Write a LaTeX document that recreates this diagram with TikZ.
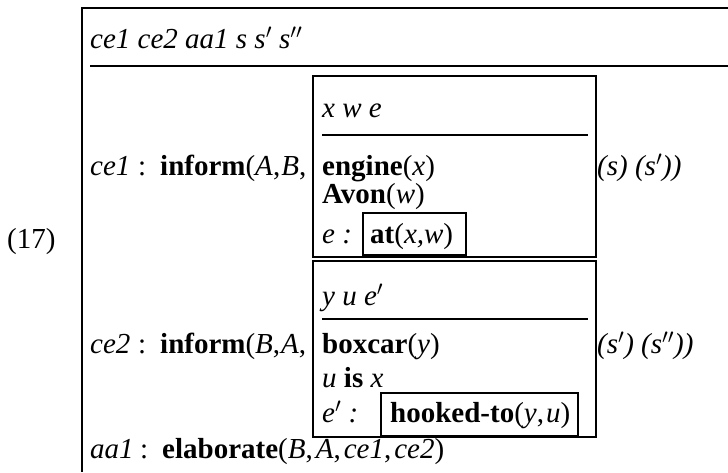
\documentclass[tikz,border=0pt]{standalone}
\usepackage{fontspec}
\setmainfont{Liberation Serif}
% argument separator with a little extra room, as in math-set argument lists
\newcommand{\argsep}[1]{,\kern#1}
\begin{document}
\begin{tikzpicture}[x=1pt,y=-1pt,
  txt/.style={anchor=base west, inner sep=0pt, font=\fontsize{29}{33}\selectfont},
  outerline/.style={line width=2.4pt},
  boxline/.style={line width=2pt}]
\useasboundingbox (0,0) rectangle (728,472);

% example number
\node[txt] (num) at (7,248) {(17)};

% outer DRS frame (open on the right and at the bottom)
\draw[outerline] (728,8) -- (82,8) -- (82,472);
\node[txt] (head) at (90,48) {\textit{ce1 ce2 aa1 s s}$'$ \textit{s}$''$};
\draw[boxline] (90,66) -- (728,66);

% condition ce1
\node[txt] (lab1) at (90,175) {\textit{ce1}};
\node[txt] (col1) at (138,175) {:};
\node[txt] (inf1) at (160,175) {\textbf{inform}(\textit{A}\argsep{1pt}\textit{B},};
\node[txt] (tail1) at (597,175) {\textit{(s) (s}$'$\textit{))}};

% embedded box for ce1
\draw[boxline] (313,76) rectangle (596,257);
\node[txt] (hd1) at (322,117) {\textit{x w e}};
\draw[boxline] (322,135) -- (588,135);
\node[txt] (eng) at (322,175) {\textbf{engine}(\textit{x})};
\node[txt] (avon) at (322,203) {\textbf{Avon}(\textit{w})};
\node[txt] (ev1) at (322,243) {\textit{e :}};
\draw[boxline] (363,213) rectangle (466,255);
\node[txt] (at) at (370,243) {\textbf{at}(\textit{x,w})};

% condition ce2
\node[txt] (lab2) at (90,353) {\textit{ce2}};
\node[txt] (col2) at (138,353) {:};
\node[txt] (inf2) at (160,353) {\textbf{inform}(\textit{B}\argsep{1pt}\textit{A},};
\node[txt] (tail2) at (597,353) {\textit{(s}$'$\textit{) (s}$''$\textit{))}};

% embedded box for ce2
\draw[boxline] (313,261) rectangle (596,437);
\node[txt] (hd2) at (322,305) {\textit{y u e}$'$};
\draw[boxline] (322,319) -- (588,319);
\node[txt] (box) at (322,353) {\textbf{boxcar}(\textit{y})};
\node[txt] (uis) at (322,387) {\textit{u} \textbf{is} \textit{x}};
\node[txt] (ev2) at (322,422) {\textit{e}$'$ \textit{:}};
\draw[boxline] (381,393) rectangle (578,436);
\node[txt] (hook) at (390,422) {\textbf{hooked-to}(\textit{y}\argsep{2pt}\textit{u})};

% condition aa1
\node[txt] (lab3) at (90,458) {\textit{aa1}};
\node[txt] (col3) at (140,458) {:};
\node[txt] (elab) at (162,458) {\textbf{elaborate}(\textit{B}\argsep{3pt}\textit{A}\argsep{3pt}\textit{ce1}\argsep{3pt}\textit{ce2})};
\end{tikzpicture}
\end{document}
